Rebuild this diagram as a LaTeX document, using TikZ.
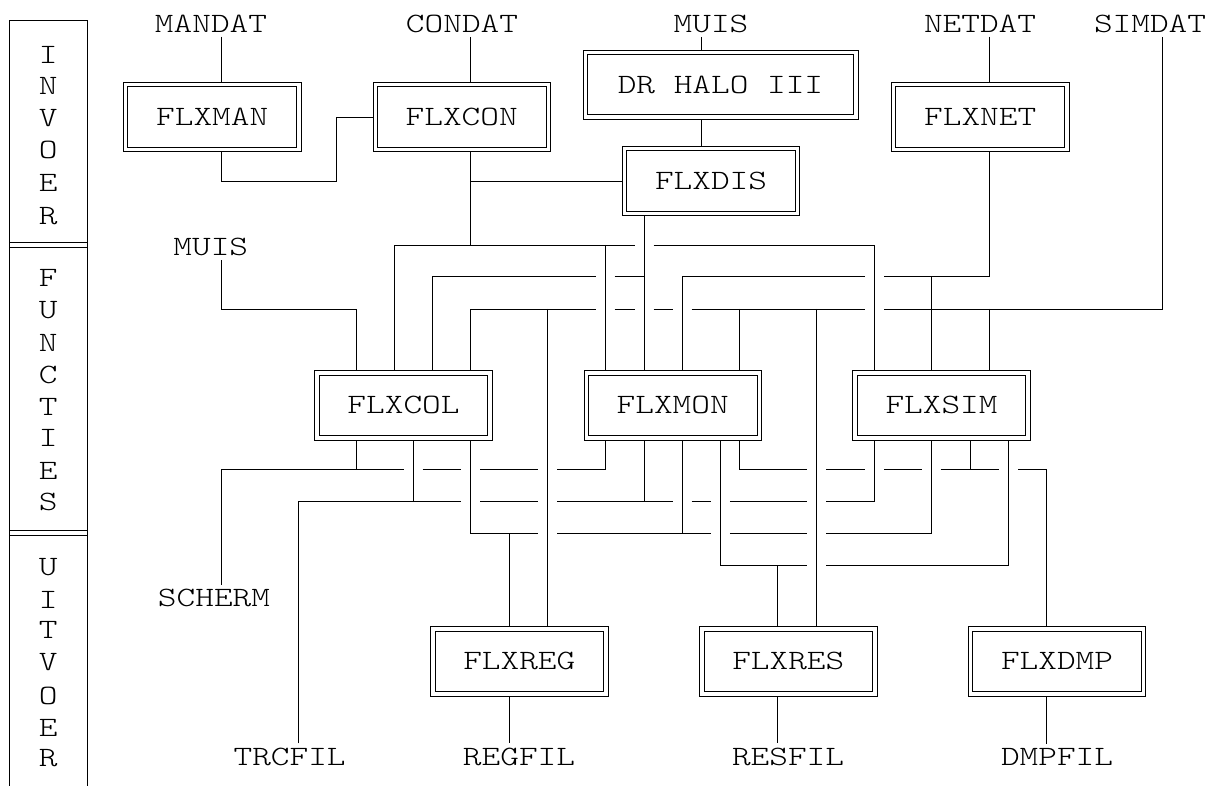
\documentclass[tikz,border=0pt]{standalone}
\usepackage{fontspec}
\newfontfamily\cour[FakeStretch=1.27]{lmmonolt10-regular.otf}
\begin{document}
\begin{tikzpicture}[x=1pt,y=-1pt, line width=0.9pt,
  lbl/.style={inner sep=0pt, outer sep=4.5pt, font=\cour\fontsize{28}{34}\selectfont},
  box/.style={draw, minimum width=177.5pt, minimum height=69.5pt, inner sep=0pt, outer sep=0pt, font=\cour\fontsize{28}{34}\selectfont},
  ltr/.style={inner sep=0pt, font=\cour\fontsize{28}{34}\selectfont}]
\useasboundingbox (0,0) rectangle (1218,786);
% left column
\draw (9.3,786) -- (9.3,20.7) -- (87.3,20.7) -- (87.3,786);
\draw (9.3,242.7) -- (87.3,242.7) (9.3,247.3) -- (87.3,247.3);
\draw (9.3,530.7) -- (87.3,530.7) (9.3,535) -- (87.3,535);
\foreach \c/\yy [count=\i] in {I/55,N/86,V/118,O/150,E/183,R/216}
  \node[ltr] (inv\i) at (48.3,\yy) {\c};
\foreach \c/\yy [count=\i] in {F/278,U/310,N/343,C/375,T/407,I/438,E/471,S/502}
  \node[ltr] (fun\i) at (48.3,\yy) {\c};
\foreach \c/\yy [count=\i] in {U/567,I/600,T/630,V/662,O/696,E/728,R/758}
  \node[ltr] (uit\i) at (48.3,\yy) {\c};
% labels
\node[lbl] (mandat) at (211,23.5) {MANDAT};
\node[lbl] (condat) at (462,23.5) {CONDAT};
\node[lbl] (muistop) at (711,23.5) {MUIS};
\node[lbl] (netdat) at (980,23.5) {NETDAT};
\node[lbl] (simdat) at (1150,23.5) {SIMDAT};
\node[lbl] (muisleft) at (210.8,246.7) {MUIS};
\node[lbl] (scherm) at (214,598) {SCHERM};
\node[lbl] (trcfil) at (289.6,756.7) {TRCFIL};
\node[lbl] (regfil) at (519,756.7) {REGFIL};
\node[lbl] (resfil) at (788,756.7) {RESFIL};
\node[lbl] (dmpfil) at (1057,756.7) {DMPFIL};
% boxes
\node[box] (FLXMAN) at (212.2,117) {FLXMAN};
\node[box] (FLXCON) at (461.7,117) {FLXCON};
\node[box, minimum width=275pt, minimum height=69.3pt] (drhalo) at (720.5,84.7) {DR HALO III};
\node[box] (FLXNET) at (980.2,117) {FLXNET};
\node[box] (FLXDIS) at (711,181) {FLXDIS};
\node[box] (FLXCOL) at (403.5,405.3) {FLXCOL};
\node[box] (FLXMON) at (672.7,405.3) {FLXMON};
\node[box] (FLXSIM) at (941.5,405.3) {FLXSIM};
\node[box] (FLXREG) at (519.3,661.3) {FLXREG};
\node[box] (FLXRES) at (788.3,661.3) {FLXRES};
\node[box] (FLXDMP) at (1057,661.3) {FLXDMP};
\foreach \b in {FLXMAN,FLXCON,drhalo,FLXNET,FLXDIS,FLXCOL,FLXMON,FLXSIM,FLXREG,FLXRES,FLXDMP}
  \draw ([shift={(4.4pt,-4.4pt)}]\b.north west) rectangle ([shift={(-4.4pt,4.4pt)}]\b.south east);
% top inputs
\draw (221,0 |- mandat.south) -- (221,0 |- FLXMAN.north);
\draw (470.7,0 |- condat.south) -- (470.7,0 |- FLXCON.north);
\draw (701.4,0 |- muistop.south) -- (701.4,0 |- drhalo.north);
\draw (989,0 |- netdat.south) -- (989,0 |- FLXNET.north);
\draw (701.4,0 |- drhalo.south) -- (701.4,0 |- FLXDIS.north);
\draw (221,0 |- FLXMAN.south) |- (336.7,181) |- (FLXCON.west);
\draw (470.7,0 |- FLXCON.south) -- (470.7,245);
\draw (470.7,181) -- (FLXDIS.west);
\draw (644,0 |- FLXDIS.south) -- (644,0 |- FLXMON.north);
% row 1 (y=245)
\draw (394,0 |- FLXCOL.north) |- (634.5,245);
\draw (653.5,245) -| (874.7,0 |- FLXSIM.north);
\draw (605,245) -- (605,0 |- FLXMON.north);
% row 2 (y=276.7)
\draw (432,0 |- FLXCOL.north) |- (595.5,276.7);
\draw (614.5,276.7) -- (644,276.7);
\draw (989,0 |- FLXNET.south) |- (884.2,276.7);
\draw (865.2,276.7) -| (682,0 |- FLXMON.north);
\draw (931,276.7) -- (931,0 |- FLXSIM.north);
% row 3 (y=309)
\draw (221.4,0 |- muisleft.south) |- (356,309) -- (356,0 |- FLXCOL.north);
\draw (470.7,0 |- FLXCOL.north) |- (595.5,309);
\draw (614.5,309) -- (634.5,309);
\draw (653.5,309) -- (672.5,309);
\draw (691.5,309) -- (865.2,309);
\draw (1162,0 |- simdat.south) |- (884.2,309);
\draw (547.5,309) -- (547.5,0 |- FLXREG.north);
\draw (739.6,309) -- (739.6,0 |- FLXMON.north);
\draw (816.8,309) -- (816.8,0 |- FLXRES.north);
\draw (989,309) -- (989,0 |- FLXSIM.north);
% row A (y=469)
\draw (221.4,0 |- scherm.north) |- (403.5,469);
\draw (422.5,469) -- (461.2,469);
\draw (480.2,469) -- (538,469);
\draw (557,469) -| (605,0 |- FLXMON.south);
\draw (356,0 |- FLXCOL.south) -- (356,469);
\draw (739.6,0 |- FLXMON.south) |- (807.3,469);
\draw (826.3,469) -- (865.2,469);
\draw (884.2,469) -- (921.5,469);
\draw (940.5,469) -- (999.1,469);
\draw (1018.1,469) -| (1046.8,0 |- FLXDMP.north);
\draw (970,0 |- FLXSIM.south) -- (970,469);
% row B (y=501)
\draw (298,0 |- trcfil.north) |- (461.2,501);
\draw (480.2,501) -- (538,501);
\draw (557,501) -- (672.5,501);
\draw (691.5,501) -- (710.8,501);
\draw (729.8,501) -- (807.3,501);
\draw (826.3,501) -| (874.7,0 |- FLXSIM.south);
\draw (413,0 |- FLXCOL.south) -- (413,501);
\draw (644,0 |- FLXMON.south) -- (644,501);
% row C (y=533)
\draw (470.7,0 |- FLXCOL.south) |- (538,533);
\draw (557,533) -- (710.8,533);
\draw (729.8,533) -- (807.3,533);
\draw (826.3,533) -| (931,0 |- FLXSIM.south);
\draw (509,533) -- (509,0 |- FLXREG.north);
\draw (682,0 |- FLXMON.south) -- (682,533);
% row D (y=565)
\draw (720.3,0 |- FLXMON.south) |- (807.3,565);
\draw (826.3,565) -| (1008.6,0 |- FLXSIM.south);
\draw (777.8,565) -- (777.8,0 |- FLXRES.north);
% outputs
\draw (509,0 |- FLXREG.south) -- (509,0 |- regfil.north);
\draw (777.8,0 |- FLXRES.south) -- (777.8,0 |- resfil.north);
\draw (1046.8,0 |- FLXDMP.south) -- (1046.8,0 |- dmpfil.north);
\end{tikzpicture}
\end{document}
